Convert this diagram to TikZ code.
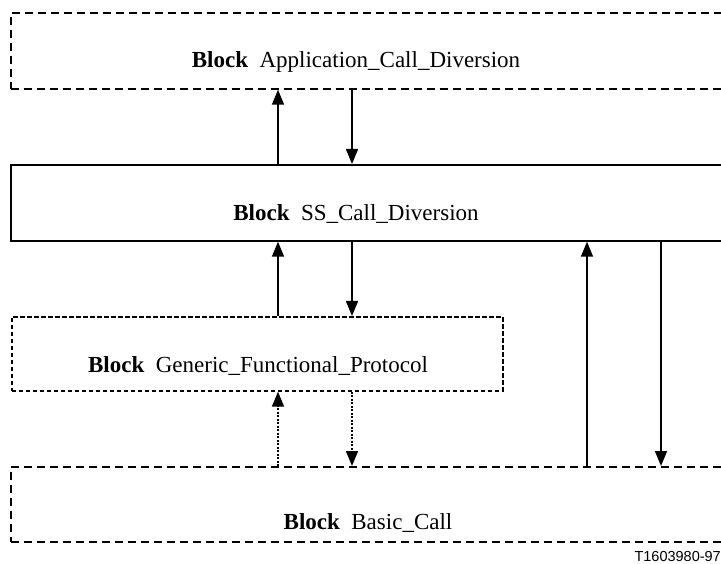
\documentclass[tikz,border=0pt]{standalone}
\usepackage{fontspec}
\setmainfont{Liberation Serif}
\setsansfont{Liberation Sans}
\usetikzlibrary{arrows.meta}
\begin{document}
\begin{tikzpicture}[x=1pt,y=-1pt,
  box/.style={draw=black,line width=1.7pt,inner sep=0pt,anchor=north west},
  bigdash/.style={dash pattern=on 8pt off 5pt},
  smalldash/.style={dash pattern=on 4.5pt off 2.5pt},
  lbl/.style={font=\fontsize{23}{26}\selectfont,inner sep=0pt},
  arr/.style={line width=1.7pt,-{Triangle[length=15pt,width=12pt]}},
  dotarr/.style={arr,dash pattern=on 2pt off 1.5pt}]
\useasboundingbox (0,0) rectangle (721,564);
\clip (0,0) rectangle (721,564);
% boxes
\node[box,bigdash,minimum width=740pt,minimum height=76pt] (app) at (10,12) {};
\node[box,minimum width=740pt,minimum height=76pt] (ss) at (10,164) {};
\node[box,smalldash,minimum width=491pt,minimum height=74pt] (gfp) at (11,316) {};
\node[box,bigdash,minimum width=740pt,minimum height=75pt] (bc) at (10,466) {};
% labels
\node[lbl] (tapp) at (356,62) {\textbf{Block}\ \ Application\_Call\_Diversion};
\node[lbl] (tss) at (356,214) {\textbf{Block}\ \ SS\_Call\_Diversion};
\node[lbl] (tgfp) at (258,366) {\textbf{Block}\ \ Generic\_Functional\_Protocol};
\node[lbl] (tbc) at (368,523) {\textbf{Block}\ \ Basic\_Call};
\node[font=\sffamily\fontsize{14.5}{16}\selectfont,anchor=base east,inner sep=0pt] (ref) at (721,561) {T1603980-97};
% x positions
\coordinate (xa) at (278,0);
\coordinate (xb) at (352,0);
\coordinate (xc) at (587,0);
\coordinate (xd) at (661,0);
% arrows
\draw[arr] (ss.north -| xa) -- (app.south -| xa);
\draw[arr] (app.south -| xb) -- (ss.north -| xb);
\draw[arr] (gfp.north -| xa) -- (ss.south -| xa);
\draw[arr] (ss.south -| xb) -- (gfp.north -| xb);
\draw[dotarr] (bc.north -| xa) -- (gfp.south -| xa);
\draw[dotarr] (gfp.south -| xb) -- (bc.north -| xb);
\draw[arr] (bc.north -| xc) -- (ss.south -| xc);
\draw[arr] (ss.south -| xd) -- (bc.north -| xd);
\end{tikzpicture}
\end{document}
